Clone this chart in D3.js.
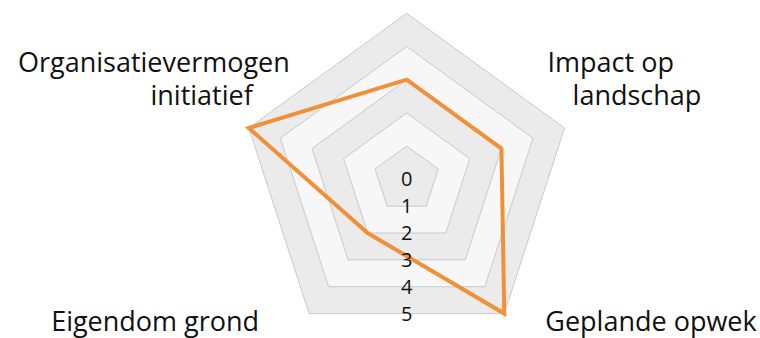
<!DOCTYPE html>
<html lang="en">
<head>
    <meta charset="UTF-8">
    <title>Radar chart</title>
    <script src="https://d3js.org/d3.v7.min.js"></script>
    <style>
        body { margin: 0; background: #fff; }
        svg { display: block; }
        text { font-family: 'Open Sans', 'Noto Sans', sans-serif; fill: #111; }
        .axis-label { font-size: 27px; }
        .tick { font-size: 20px; }
    </style>
</head>
<body>
    <svg width="760" height="338"></svg>
    <script>
        // axes, clockwise starting at the top (top axis has no label)
        const axes = ["", "Impact op landschap", "Geplande opwek", "Eigendom grond", "Organisatievermogen initiatief"];
        const labelLines = [[], ["Impact op", "landschap"], ["Geplande opwek"], ["Eigendom grond"], ["Organisatievermogen", "initiatief"]];
        const values = [3, 3, 5, 2, 5];
        const ticks = [0, 1, 2, 3, 4, 5];

        const svg = d3.select("svg");
        const cx = 406.7, cy = 179.3, R = 166;

        const r = d3.scaleLinear().domain([0, 5]).range([0, R]);
        const angle = d3.scaleLinear().domain([0, axes.length]).range([0, 2 * Math.PI]);

        const point = (i, v) => [cx + r(v) * Math.sin(angle(i)), cy - r(v) * Math.cos(angle(i))];
        const ring = v => axes.map((a, i) => point(i, v));

        const g = svg.append("g");

        // grid bands, drawn from the outside in
        const levels = ticks.slice(1).reverse();
        g.selectAll("polygon.grid")
            .data(levels)
            .enter()
            .append("polygon")
            .attr("class", "grid")
            .attr("points", d => ring(d).map(p => p.join(",")).join(" "))
            .attr("fill", d => d % 2 === 1 ? "#ebebeb" : "#f7f7f7")
            .attr("stroke", "#c9c9c9")
            .attr("stroke-width", 1);

        // the series
        g.append("polygon")
            .attr("points", values.map((v, i) => point(i, v).join(",")).join(" "))
            .attr("fill", "none")
            .attr("stroke", "#f0913a")
            .attr("stroke-width", 4)
            .attr("stroke-linejoin", "miter");

        // tick labels down the middle, where each ring's bottom edge is
        const edge = Math.cos(Math.PI / axes.length);
        g.selectAll("text.tick")
            .data(ticks)
            .enter()
            .append("text")
            .attr("class", "tick")
            .attr("x", cx)
            .attr("y", d => cy + r(d) * edge)
            .attr("text-anchor", "middle")
            .attr("dy", "0.35em")
            .text(d => d);

        // axis labels, placed relative to the outer vertices
        const layout = [
            null,
            { anchor: "start", dx: [-17, 8], dy: [-56, -23] },
            { anchor: "start", dx: [41], dy: [17.5] },
            { anchor: "end", dx: [-50], dy: [17.5] },
            { anchor: "end", dx: [41, 4], dy: [-56, -23] }
        ];
        labelLines.forEach((lines, i) => {
            if (!lines.length) return;
            const [vx, vy] = point(i, 5);
            const l = layout[i];
            lines.forEach((line, j) => {
                svg.append("text")
                    .attr("class", "axis-label")
                    .attr("x", vx + l.dx[j])
                    .attr("y", vy + l.dy[j])
                    .attr("text-anchor", l.anchor)
                    .text(line);
            });
        });
    </script>
</body>
</html>
